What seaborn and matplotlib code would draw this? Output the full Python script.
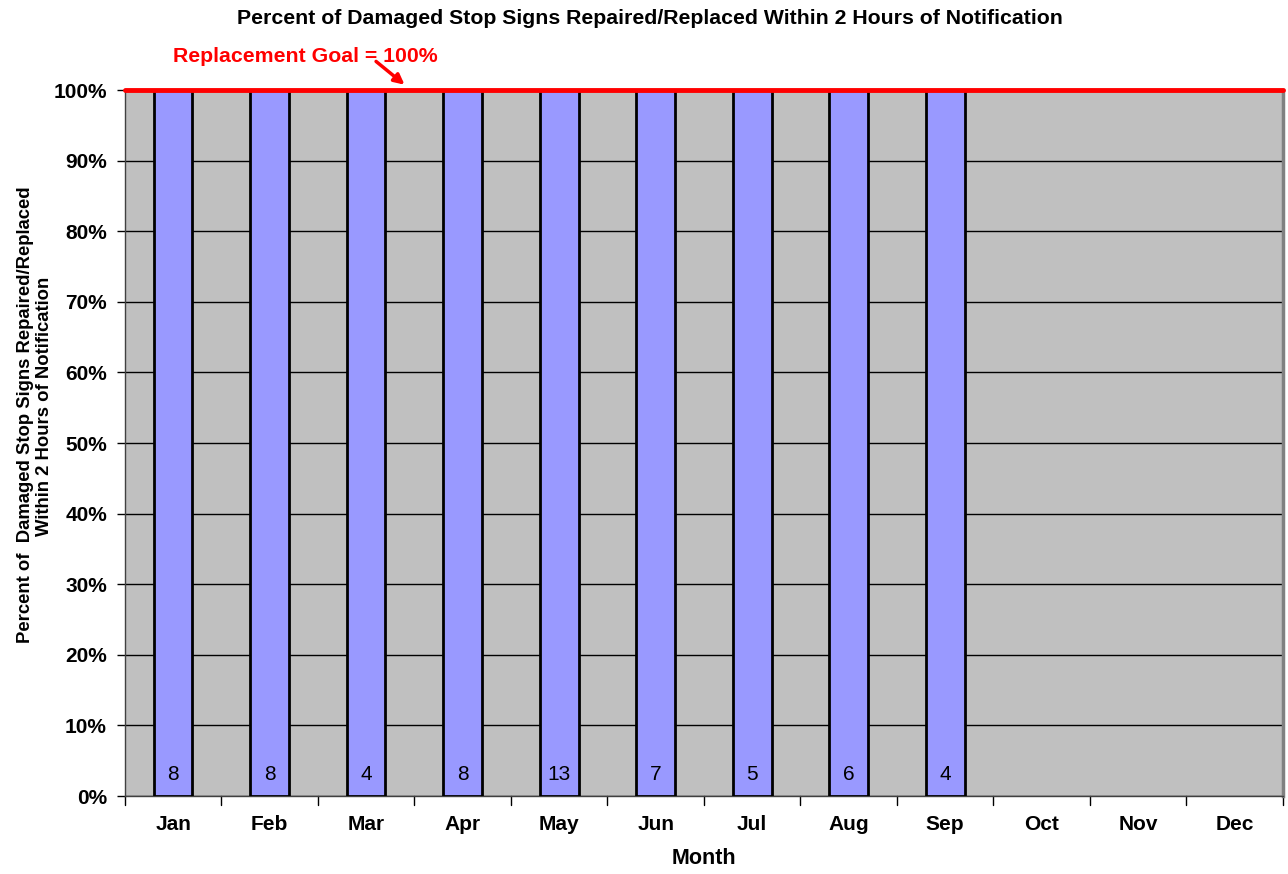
import pandas as pd
import numpy as np
import matplotlib
matplotlib.use('Agg')
import matplotlib.pyplot as plt
import seaborn as sns

# ----------------------------
# Data
# ----------------------------
months = ['Jan', 'Feb', 'Mar', 'Apr', 'May', 'Jun', 'Jul', 'Aug', 'Sep', 'Oct', 'Nov', 'Dec']
reported_months = ['Jan', 'Feb', 'Mar', 'Apr', 'May', 'Jun', 'Jul', 'Aug', 'Sep']
pct_repaired = [100, 100, 100, 100, 100, 100, 100, 100, 100]
sign_counts = [8, 8, 4, 8, 13, 7, 5, 6, 4]
goal = 100
yticks = list(range(0, 101, 10))

df = pd.DataFrame({'Month': reported_months, 'Pct': pct_repaired, 'Count': sign_counts})

# ----------------------------
# Style
# ----------------------------
sns.set_style('white')
plt.rcParams['font.family'] = ['Liberation Sans', 'DejaVu Sans']
plt.rcParams['text.color'] = 'black'
plt.rcParams['axes.labelcolor'] = 'black'
plt.rcParams['xtick.color'] = 'black'
plt.rcParams['ytick.color'] = 'black'

fig = plt.figure(figsize=(12.88, 8.74), dpi=100)
ax = fig.add_axes([0.097, 0.0892, 0.8991, 0.8078])
ax.set_facecolor('#c0c0c0')

sns.barplot(data=df, x='Month', y='Pct', order=months, color='#9999ff',
            saturation=1, width=0.40, edgecolor='black', linewidth=2,
            ax=ax, zorder=3)

# bar count labels
for m, c in zip(reported_months, sign_counts):
    xpos = months.index(m)
    ax.text(xpos, 3, str(c), ha='center', va='center', fontsize=15, zorder=5)

ax.set_xlim(-0.5, len(months) - 0.5)
ax.set_ylim(0, 100)
ax.set_yticks(yticks)
ax.set_yticklabels([f'{t}%' for t in yticks], fontsize=15, fontweight='bold')
ax.set_xticks(range(len(months)))
ax.set_xticklabels(months, fontsize=15, fontweight='bold')
ax.tick_params(axis='x', length=0, pad=14)
ax.tick_params(axis='y', length=6, direction='out', left=True, width=1, pad=7)

# x ticks at category boundaries
for b in np.arange(-0.5, len(months), 1.0):
    ax.plot([b, b], [0, -0.012], transform=ax.get_xaxis_transform(),
            color='black', lw=1, clip_on=False)

ax.yaxis.grid(True, color='black', linewidth=1, zorder=1)
ax.set_axisbelow(True)

for s in ['left', 'bottom']:
    ax.spines[s].set_color('#404040')
    ax.spines[s].set_linewidth(1)
ax.spines['right'].set_color('#808080')
ax.spines['right'].set_linewidth(2.5)
ax.spines['top'].set_visible(False)

# goal line
ax.axhline(goal, color='#ff0000', linewidth=3.5, zorder=6, clip_on=False)
ax.text(1.37, 104.8, 'Replacement Goal = 100%', color='#ff0000',
        fontsize=15.3, fontweight='bold', ha='center', va='center')
ax.annotate('', xy=(2.42, 100.5), xytext=(2.08, 104.3), xycoords='data',
            arrowprops=dict(arrowstyle='-|>', color='#ff0000', lw=2.5,
                            mutation_scale=15),
            annotation_clip=False)

ax.set_xlabel('Month', fontsize=15.5, fontweight='bold', labelpad=10)
# y label: two lines, placed separately
ax.set_ylabel('Percent of  Damaged Stop Signs Repaired/Replaced',
              fontsize=13.3, fontweight='bold')
ax.yaxis.label.set_verticalalignment('center')
ax.yaxis.set_label_coords(-0.0855, 0.5397)
ax.text(-0.0691, 0.5524, 'Within 2 Hours of Notification', transform=ax.transAxes,
        rotation=90, ha='center', va='center', fontsize=13.3, fontweight='bold')

fig.suptitle('Percent of Damaged Stop Signs Repaired/Replaced Within 2 Hours of Notification',
             fontsize=15.3, fontweight='bold', x=0.5047, y=0.99)

fig.savefig('out.png', dpi=100)
